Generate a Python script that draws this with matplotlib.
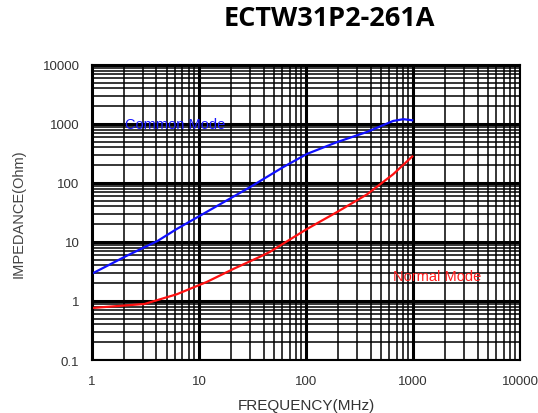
import matplotlib
matplotlib.use("Agg")
import matplotlib.pyplot as plt
import numpy as np

# values
cm_freq = [1, 2.1, 4.1, 6.2, 30, 61, 102, 194, 371, 650, 810, 980]
cm_imp = [2.9, 5.8, 10.4, 16.6, 85, 185, 310, 490, 730, 1120, 1200, 1150]
nm_freq = [1, 3.1, 6.2, 11.8, 21, 37, 46, 102, 194, 371, 650, 980]
nm_imp = [0.76, 0.89, 1.3, 2.1, 3.5, 5.6, 6.8, 16.6, 32, 64, 140, 280]
x_ticks = [1, 10, 100, 1000, 10000]
y_ticks = [0.1, 1, 10, 100, 1000, 10000]

fig = plt.figure(figsize=(5.38, 4.14), dpi=100)
ax = fig.add_axes([0.171, 0.128, 0.796, 0.713])
ax.set_xscale("log")
ax.set_yscale("log")
ax.set_xlim(1, 10000)
ax.set_ylim(0.1, 10000)

ax.grid(True, which="major", color="k", linewidth=2.2)
ax.grid(True, which="minor", color="k", linewidth=1.1)
ax.set_axisbelow(True)
for s in ax.spines.values():
    s.set_linewidth(1.5)

ax.plot(cm_freq, cm_imp, color="#1010ff", linewidth=1.6)
ax.plot(nm_freq, nm_imp, color="#ff1010", linewidth=1.6)

ax.text(2.03, 1000, "Common Mode", color="#1a1aff", fontsize=10.5,
        family="Liberation Sans", va="center", ha="left")
ax.text(648, 2.65, "Normal Mode", color="#ff2020", fontsize=10.5,
        family="Liberation Sans", va="center", ha="left")

ax.set_xticks(x_ticks)
ax.set_xticklabels([str(v) for v in x_ticks])
ax.set_yticks(y_ticks)
ax.set_yticklabels(["0.1", "1", "10", "100", "1000", "10000"])
ax.tick_params(which="both", length=0)
ax.tick_params(axis="x", pad=11, labelsize=9.5, labelcolor="#333333")
ax.tick_params(axis="y", pad=9, labelsize=9.5, labelcolor="#333333")
for lab in ax.get_xticklabels() + ax.get_yticklabels():
    lab.set_family("Liberation Sans")

ax.set_xlabel("FREQUENCY(MHz)", fontsize=11, family="Liberation Sans",
              color="#333333", labelpad=8)
ax.set_ylabel("IMPEDANCE(Ohm)", fontsize=10.5, family="Liberation Sans",
              color="#444444", labelpad=12)

fig.text(0.613, 0.954, "ECTW31P2-261A", fontsize=19.5, fontweight="bold",
         family="Open Sans", ha="center", va="center")

fig.savefig("out.png", dpi=100)
